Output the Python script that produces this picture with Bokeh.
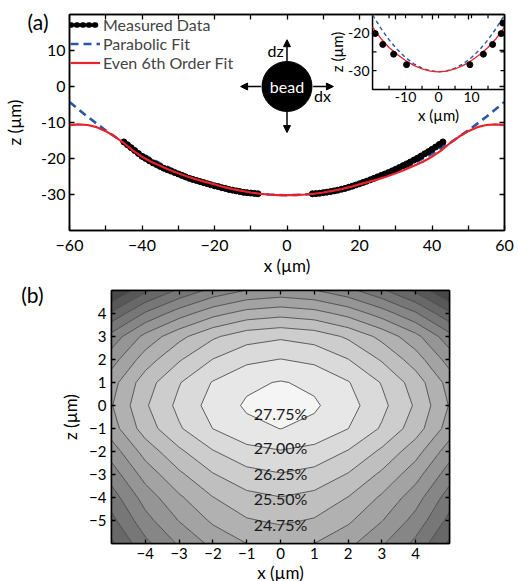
import numpy as np
from bokeh.plotting import figure
from bokeh.models import (Range1d, LinearAxis, FixedTicker, Legend, LegendItem,
                          Arrow, NormalHead, CustomJSTickFormatter)
from bokeh.core.properties import value
from bokeh.embed import file_html
from bokeh.resources import INLINE

FONT = "Lato"

# ---------------- Panel (a) data ----------------
meas_x = [-45, -44, -43, -42, -41, -40, -39, -38, -37, -36, -35, -34, -33, -32, -31,
          -30, -29, -28, -27, -26, -25, -24, -23, -22, -21, -20, -19, -18, -17, -16,
          -15, -14, -13, -12, -11, -10, -9, -8,
          7, 8, 9, 10, 11, 12, 13, 14, 15, 16, 17, 18, 19, 20, 21, 22, 23, 24, 25,
          26, 27, 28, 29, 30, 31, 32, 33, 34, 35, 36, 37, 38, 39, 40, 41, 42, 43]
meas_z = [-15.4, -16.2, -17.0, -17.8, -18.6, -19.4, -20.0, -20.6, -21.2, -21.7, -22.2,
          -22.7, -23.1, -23.5, -23.9, -24.3, -24.7, -25.1, -25.5, -25.8, -26.1, -26.4,
          -26.7, -27.0, -27.3, -27.6, -27.8, -28.1, -28.3, -28.6, -28.8, -29.0, -29.2,
          -29.4, -29.5, -29.6, -29.7, -29.8,
          -29.8, -29.75, -29.65, -29.5, -29.35, -29.2, -29.0, -28.8, -28.55, -28.3,
          -28.0, -27.7, -27.35, -27.0, -26.65, -26.3, -25.9, -25.5, -25.1, -24.7,
          -24.3, -23.9, -23.45, -23.0, -22.5, -22.0, -21.5, -21.0, -20.45, -19.9,
          -19.3, -18.7, -18.1, -17.45, -16.8, -16.1, -15.4]
n_left = 38  # points on the negative-x side of the gap

para_x = [-60, -55, -50, -45, -40, -35, -30, -25, -20, -15, -10, -5, 0,
          5, 10, 15, 20, 25, 30, 35, 40, 45, 50, 55, 60]
para_z = [-4.28, -8.42, -12.2, -15.62, -18.68, -21.38, -23.72, -25.7, -27.32, -28.58,
          -29.48, -30.02, -30.2, -30.02, -29.48, -28.58, -27.32, -25.7, -23.72,
          -21.38, -18.68, -15.62, -12.2, -8.42, -4.28]

fit6_x = [-60, -57.5, -55, -52.5, -50, -47.5, -45, -42.5, -40, -37.5, -35, -32.5, -30,
          -27.5, -25, -22.5, -20, -17.5, -15, -12.5, -10, -7.5, -5, -2.5, 0,
          2.5, 5, 7.5, 10, 12.5, 15, 17.5, 20, 22.5, 25, 27.5, 30, 32.5, 35, 37.5,
          40, 42.5, 45, 47.5, 50, 52.5, 55, 57.5, 60]
fit6_z = [-10.75, -10.5, -10.7, -11.3, -12.4, -13.9, -15.7, -17.8, -19.5, -20.9, -22.0,
          -23.1, -24.1, -25.0, -25.8, -26.5, -27.2, -27.9, -28.5, -29.0, -29.45, -29.8,
          -30.0, -30.15, -30.2,
          -30.15, -30.0, -29.8, -29.45, -29.0, -28.5, -27.9, -27.2, -26.5, -25.8,
          -25.0, -24.1, -23.1, -22.0, -20.9, -19.5, -17.8, -15.7, -13.9, -12.4,
          -11.3, -10.7, -10.5, -10.75]

x_tick_labels = {-60: "\u221260", -40: "\u221240", -20: "\u221220", 0: "0",
                 20: "20", 40: "40", 60: "60"}
z_tick_labels = {10: "10", 0: "0", -10: "-10", -20: "-20", -30: "-30"}

# inset data
ins_meas_x = [-19.2, -16.9, -13.6, -9.7, 9.5, 13.6, 16.4, 19.0, 19.5]
ins_meas_z = [-20.1, -23.0, -25.6, -28.4, -28.4, -25.6, -23.0, -20.1, -17.3]
ins_para_x = [-20, -17.5, -15, -12.5, -10, -7.5, -5, -2.5, 0, 2.5, 5, 7.5, 10, 12.5, 15, 17.5, 20]
ins_para_z = [-15.1, -18.66, -21.75, -24.36, -26.5, -28.16, -29.35, -30.06, -30.3,
              -30.06, -29.35, -28.16, -26.5, -24.36, -21.75, -18.66, -15.1]
ins_fit6_x = [-20, -17.5, -15, -12.5, -10, -7.5, -5, -2.5, 0, 2.5, 5, 7.5, 10, 12.5, 15, 17.5, 20]
ins_fit6_z = [-18.4, -21.4, -23.8, -25.7, -27.3, -28.6, -29.55, -30.1, -30.3,
              -30.1, -29.55, -28.6, -27.3, -25.7, -23.8, -21.4, -18.4]
ins_xtick_labels = ["-10", "0", "10"]
ins_xtick_vals = [-10, 0, 10]
ins_ztick_labels = ["-20", "-30"]
ins_ztick_vals = [-20, -30]
ins_xticks = [-15, -10, -5, 0, 5, 10, 15]
ins_zticks = [-30, -25, -20]

# ---------------- Panel (b) data ----------------
grid_x = [-5, -4, -3, -2, -1, 0, 1, 2, 3, 4, 5]
grid_z = [-6, -5, -4, -3, -2, -1, 0, 1, 2, 3, 4, 5]
grid_T = [
    [20.10, 21.55, 22.60, 23.45, 24.00, 24.20, 24.00, 23.45, 22.60, 21.55, 20.10],
    [20.78, 22.23, 23.28, 24.13, 24.68, 24.88, 24.68, 24.13, 23.28, 22.23, 20.78],
    [21.38, 22.83, 23.88, 24.73, 25.28, 25.48, 25.28, 24.73, 23.88, 22.83, 21.38],
    [22.10, 23.55, 24.60, 25.45, 26.00, 26.20, 26.00, 25.45, 24.60, 23.55, 22.10],
    [22.85, 24.30, 25.35, 26.20, 26.75, 26.95, 26.75, 26.20, 25.35, 24.30, 22.85],
    [23.66, 25.11, 26.16, 27.01, 27.56, 27.76, 27.56, 27.01, 26.16, 25.11, 23.66],
    [23.95, 25.40, 26.45, 27.30, 27.85, 28.05, 27.85, 27.30, 26.45, 25.40, 23.95],
    [23.70, 25.15, 26.20, 27.05, 27.60, 27.80, 27.60, 27.05, 26.20, 25.15, 23.70],
    [22.92, 24.37, 25.42, 26.27, 26.82, 27.02, 26.82, 26.27, 25.42, 24.37, 22.92],
    [22.03, 23.48, 24.53, 25.38, 25.93, 26.13, 25.93, 25.38, 24.53, 23.48, 22.03],
    [20.40, 21.85, 22.90, 23.75, 24.30, 24.50, 24.30, 23.75, 22.90, 21.85, 20.40],
    [18.64, 20.09, 21.14, 21.99, 22.54, 22.74, 22.54, 21.99, 21.14, 20.09, 18.64],
]
levels = [18.0, 18.75, 19.5, 20.25, 21.0, 21.75, 22.5, 23.25, 24.0, 24.75,
          25.5, 26.25, 27.0, 27.75, 28.5]
band_gray = [56, 72, 88, 104, 119, 134, 149, 163, 177, 191, 205, 218, 231, 245]
label_text = ["27.75%", "27.00%", "26.25%", "25.50%", "24.75%"]
label_x = [0, 0, 0, 0, 0]
label_z = [-0.35, -1.81, -2.94, -4.06, -5.17]
bx_tick_labels = {-4: "\u22124", -3: "\u22123", -2: "\u22122", -1: "\u22121", 0: "0",
                  1: "1", 2: "2", 3: "3", 4: "4"}
bz_tick_labels = {-5: "\u22125", -4: "\u22124", -3: "\u22123", -2: "\u22122", -1: "\u22121",
                  0: "0", 1: "1", 2: "2", 3: "3", 4: "4"}

RED = "#e8232b"
BLUE = "#2c55a8"


def style_axis(ax, ticker, overrides=None, size="16px", show=True, tick=5):
    ax.ticker = ticker
    ax.major_tick_in = tick
    ax.major_tick_out = 0
    ax.minor_tick_in = tick
    ax.minor_tick_out = 0
    ax.axis_line_color = "black"
    ax.axis_line_width = 1.5
    ax.major_tick_line_color = "black"
    ax.major_tick_line_width = 1.3
    ax.minor_tick_line_color = "black"
    ax.minor_tick_line_width = 1.3
    ax.major_label_text_font = FONT
    ax.major_label_text_color = "black"
    ax.axis_label_text_font = FONT
    ax.axis_label_text_font_style = "normal"
    ax.axis_label_text_color = "black"
    if show:
        ax.major_label_text_font_size = size
        if overrides:
            ax.major_label_overrides = overrides
    else:
        ax.formatter = CustomJSTickFormatter(code="return ''")
        ax.major_label_text_font_size = "1px"
        ax.major_label_standoff = 0


def tag_axis(tick_value, tag, standoff):
    """An axis with no line/ticks that only carries the panel tag as its tick label."""
    ax = LinearAxis(ticker=FixedTicker(ticks=[tick_value], minor_ticks=[]),
                    major_label_overrides={tick_value: tag})
    ax.axis_line_color = None
    ax.major_tick_line_color = None
    ax.minor_tick_line_color = None
    ax.major_tick_in = 0
    ax.major_tick_out = 0
    ax.minor_tick_in = 0
    ax.minor_tick_out = 0
    ax.major_label_text_font = FONT
    ax.major_label_text_font_size = "21px"
    ax.major_label_text_color = "black"
    ax.major_label_standoff = standoff
    ax.axis_label_text_font = FONT
    ax.axis_label_text_font_style = "normal"
    ax.axis_label_text_color = "black"
    return ax


# ================= Panel (a) =================
pa = figure(frame_width=435, frame_height=216, x_range=Range1d(-60, 60),
            y_range=Range1d(-40, 20), output_backend="svg", toolbar_location=None,
            min_border_left=67, min_border_right=16, min_border_top=14,
            min_border_bottom=50)
pa.grid.visible = False
pa.outline_line_color = "black"
pa.outline_line_width = 1.5

xt_a = FixedTicker(ticks=[-60, -40, -20, 0, 20, 40, 60], minor_ticks=[-50, -30, -10, 10, 30, 50])
zt_a = FixedTicker(ticks=[-30, -20, -10, 0, 10], minor_ticks=[])
style_axis(pa.xaxis[0], xt_a, x_tick_labels, "16px")
style_axis(pa.yaxis[0], zt_a, z_tick_labels, "16px")
pa.xaxis[0].axis_label = "x (\u00b5m)"
pa.xaxis[0].axis_label_text_font_size = "17px"
pa.xaxis[0].major_label_standoff = 9
pa.xaxis[0].axis_label_standoff = 1
pa.yaxis[0].major_label_standoff = 4
top_a = LinearAxis()
style_axis(top_a, FixedTicker(ticks=[-60, -40, -20, 0, 20, 40, 60], minor_ticks=[-50, -30, -10, 10, 30, 50]), show=False)
pa.add_layout(top_a, "above")
right_a = LinearAxis()
style_axis(right_a, FixedTicker(ticks=[-30, -20, -10, 0, 10], minor_ticks=[]), show=False)
pa.add_layout(right_a, "right")
# outer left axis: panel tag "(a)" plus the z axis title
tag_a = tag_axis(18.1, "(a)", -11)
tag_a.axis_label = "z (\u00b5m)"
tag_a.axis_label_text_font_size = "17px"
tag_a.axis_label_standoff = 0
pa.add_layout(tag_a, "left")

blue_r = pa.line(para_x, para_z, line_color=BLUE, line_width=2.6, line_dash="8 5")
# dotted trace under the measured points (also provides the legend swatch)
dots_r = pa.multi_line(xs=[meas_x[:n_left], meas_x[n_left:]],
                       ys=[meas_z[:n_left], meas_z[n_left:]],
                       line_color="black", line_width=5.5, line_dash="1 5", line_cap="round")
pa.scatter(meas_x, meas_z, size=6, fill_color="black", line_color="black")
red_r = pa.line(fit6_x, fit6_z, line_color=RED, line_width=2.2)

legend = Legend(items=[LegendItem(label="Measured Data", renderers=[dots_r]),
                       LegendItem(label="Parabolic Fit", renderers=[blue_r]),
                       LegendItem(label="Even 6th Order Fit", renderers=[red_r])],
                location="top_left", border_line_color=None, background_fill_alpha=0,
                label_text_font=FONT, label_text_font_size="16px", glyph_width=30,
                glyph_height=17, label_height=17, label_standoff=3, spacing=0,
                padding=7, margin=1, label_text_baseline="middle")
pa.add_layout(legend)

# bead sketch
pa.scatter([0], [0], size=50, fill_color="black", line_color="black")
pa.text([0], [0], text=["bead"], text_color="white", text_font=value(FONT),
        text_font_size="16px", text_align="center", text_baseline="middle")
for xs, ys, xe, ye in [(0, 7, 0, 13), (0, -7, 0, -12.8), (-7.2, 0, -12.8, 0), (7.2, 0, 12.8, 0)]:
    pa.add_layout(Arrow(x_start=xs, y_start=ys, x_end=xe, y_end=ye, line_width=1.5,
                        line_color="black",
                        end=NormalHead(size=7, fill_color="black", line_color="black")))
pa.text([-0.9], [10.1], text=["dz"], text_font=value(FONT), text_font_size="16px",
        text_align="right", text_baseline="middle")
pa.text([9.8], [-2.6], text=["dx"], text_font=value(FONT), text_font_size="16px",
        text_align="center", text_baseline="middle")

# inset
ins = pa.subplot(x_source=Range1d(-20, 20), y_source=Range1d(-35, -15),
                 x_target=Range1d(23.6, 60), y_target=Range1d(-0.8, 20))
ins.quad(left=[-20], right=[20], bottom=[-35], top=[-15], fill_color="white",
         line_color="black", line_width=1.5)
ins.segment(x0=ins_xticks, y0=[-35] * 7, x1=ins_xticks, y1=[-34.0] * 7, line_color="black", line_width=1.2)
ins.segment(x0=ins_xticks, y0=[-15] * 7, x1=ins_xticks, y1=[-16.0] * 7, line_color="black", line_width=1.2)
ins.segment(x0=[-20] * 3, y0=ins_zticks, x1=[-18.8] * 3, y1=ins_zticks, line_color="black", line_width=1.2)
ins.segment(x0=[20] * 3, y0=ins_zticks, x1=[18.8] * 3, y1=ins_zticks, line_color="black", line_width=1.2)
ins.line(ins_para_x, ins_para_z, line_color=BLUE, line_width=1.4, line_dash="4 3")
ins.line(ins_fit6_x, ins_fit6_z, line_color=RED, line_width=1.3)
ins.scatter(ins_meas_x, ins_meas_z, size=6, fill_color="black", line_color="black")
ins.text(ins_xtick_vals, [-35] * 3, text=ins_xtick_labels, text_font=value(FONT),
         text_font_size="14px", text_align="center", text_baseline="top", y_offset=3)
ins.text([-20] * 2, ins_ztick_vals, text=ins_ztick_labels, text_font=value(FONT),
         text_font_size="14px", text_align="right", text_baseline="middle", x_offset=-3)
ins.text([0], [-35], text=["x (\u00b5m)"], text_font=value(FONT), text_font_size="15px",
         text_align="center", text_baseline="top", y_offset=17)
ins.text([-20], [-25], text=["z (\u00b5m)"], text_font=value(FONT), text_font_size="15px",
         text_align="center", text_baseline="middle", x_offset=-36, angle=np.pi / 2)

# ================= Panel (b) =================
pb = figure(frame_width=338, frame_height=253, x_range=Range1d(-5, 5),
            y_range=Range1d(-6, 5), output_backend="svg", toolbar_location=None,
            min_border_left=111, min_border_right=69, min_border_top=10,
            min_border_bottom=38)
pb.grid.visible = False
pb.outline_line_color = "black"
pb.outline_line_width = 1.5

colors = ["#%02x%02x%02x" % (g, g, g) for g in band_gray]
pb.contour(x=grid_x, y=grid_z, z=np.array(grid_T), levels=levels, fill_color=colors,
           line_color="#3a3a3a", line_width=0.8)

style_axis(pb.xaxis[0], FixedTicker(ticks=[-4, -3, -2, -1, 0, 1, 2, 3, 4], minor_ticks=[]),
           bx_tick_labels, "15px", tick=4)
style_axis(pb.yaxis[0], FixedTicker(ticks=[-5, -4, -3, -2, -1, 0, 1, 2, 3, 4], minor_ticks=[]),
           bz_tick_labels, "15px", tick=4)
pb.xaxis[0].axis_label = "x (\u00b5m)"
pb.xaxis[0].axis_label_text_font_size = "17px"
pb.xaxis[0].major_label_standoff = 4
pb.xaxis[0].axis_label_standoff = 0
pb.yaxis[0].axis_label = "z (\u00b5m)"
pb.yaxis[0].axis_label_text_font_size = "17px"
pb.yaxis[0].major_label_standoff = 5
top_b = LinearAxis()
style_axis(top_b, FixedTicker(ticks=[-4, -3, -2, -1, 0, 1, 2, 3, 4], minor_ticks=[]), show=False, tick=4)
pb.add_layout(top_b, "above")
right_b = LinearAxis()
style_axis(right_b, FixedTicker(ticks=[-5, -4, -3, -2, -1, 0, 1, 2, 3, 4], minor_ticks=[]), show=False, tick=4)
pb.add_layout(right_b, "right")
pb.add_layout(tag_axis(4.83, "(b)", 14), "left")

pb.text(label_x, label_z, text=label_text, text_font=value(FONT), text_font_size="16px",
        text_align="center", text_baseline="middle", text_color="#1a1a1a")

open("out.html", "w").write(file_html([pa, pb], INLINE))
